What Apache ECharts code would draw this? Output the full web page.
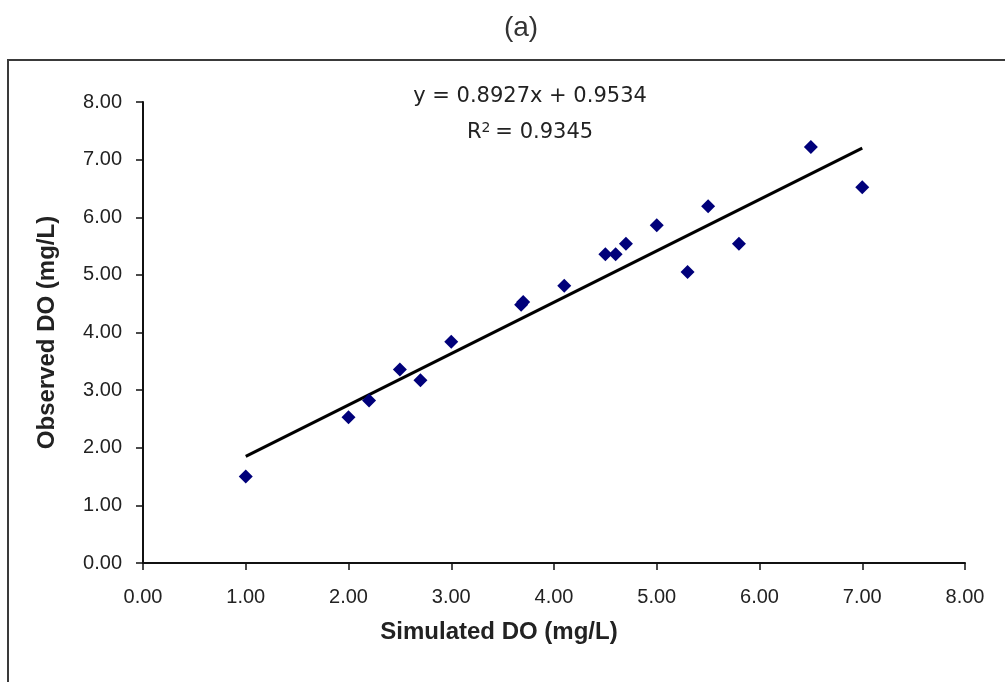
<!DOCTYPE html>
<html>
<head>
<meta charset="utf-8">
<script src="https://cdn.jsdelivr.net/npm/echarts@6/dist/echarts.min.js"></script>
<style>
html,body{margin:0;padding:0;background:#fff;}
#chart{width:1005px;height:682px;}
</style>
</head>
<body>
<div id="chart"></div>
<script>
// Data
var simulatedDO = [1.00, 2.00, 2.20, 2.50, 2.70, 3.00, 3.68, 3.70, 4.10, 4.50, 4.60, 4.70, 5.00, 5.30, 5.50, 5.80, 6.50, 7.00];
var observedDO  = [1.50, 2.53, 2.82, 3.36, 3.17, 3.84, 4.48, 4.53, 4.81, 5.36, 5.36, 5.54, 5.86, 5.05, 6.19, 5.54, 7.22, 6.52];
var trendX = [1.00, 7.00];
var trendY = [1.85, 7.20];
var axisTicks = [0, 1, 2, 3, 4, 5, 6, 7, 8];
var titleText = '(a)';
var equationText = 'y = 0.8927x + 0.9534';
var r2Text = 'R{sup|2}= 0.9345';
var xName = 'Simulated DO (mg/L)';
var yName = 'Observed DO (mg/L)';

var pts = simulatedDO.map(function (x, i) { return [x, observedDO[i]]; });
var trend = trendX.map(function (x, i) { return [x, trendY[i]]; });

var FONT = '"Liberation Sans", Arial, sans-serif';
var WIDE = '"DejaVu Sans", "Liberation Sans", sans-serif';
var chart = echarts.init(document.getElementById('chart'));
chart.setOption({
  animation: false,
  backgroundColor: '#ffffff',
  grid: { left: 143, right: 40, top: 102, bottom: 119, containLabel: false },
  graphic: [
    { type: 'rect', shape: { x: 8, y: 60, width: 1020, height: 700 },
      style: { fill: 'none', stroke: '#3a3a3a', lineWidth: 2 }, silent: true, z: -1 },
    { type: 'text', x: 521, y: 28, style: { text: titleText, font: '28px ' + FONT, fill: '#333', textAlign: 'center', textVerticalAlign: 'middle' } },
    { type: 'text', x: 530, y: 97, style: { text: equationText, font: '21px ' + WIDE, fill: '#222', textAlign: 'center', textVerticalAlign: 'middle' } },
    { type: 'text', x: 530, y: 133, style: { text: r2Text, font: '21px ' + WIDE, fill: '#222', textAlign: 'center', textVerticalAlign: 'middle',
      rich: { sup: { fontSize: 14, fontFamily: WIDE, verticalAlign: 'top', padding: [0, 5, 10, 0], fill: '#222' } } } }
  ],
  xAxis: {
    type: 'value', min: 0, max: 8, interval: 1,
    name: xName, nameLocation: 'middle', nameGap: 57,
    nameTextStyle: { fontFamily: FONT, fontSize: 24, fontWeight: 'bold', color: '#222', padding: [0, 110, 0, 0] },
    axisLine: { show: true, onZero: false, lineStyle: { color: '#111', width: 2 } },
    axisTick: { show: true, inside: false, length: 7, lineStyle: { color: '#111', width: 1.5 } },
    axisLabel: { fontFamily: FONT, fontSize: 20, color: '#222', margin: 24,
      formatter: function (v) { return v.toFixed(2); } },
    splitLine: { show: false }
  },
  yAxis: {
    type: 'value', min: 0, max: 8, interval: 1,
    name: yName, nameLocation: 'middle', nameGap: 84, nameRotate: 90,
    nameTextStyle: { fontFamily: FONT, fontSize: 24, fontWeight: 'bold', color: '#222' },
    axisLine: { show: true, onZero: false, lineStyle: { color: '#111', width: 2 } },
    axisTick: { show: true, inside: false, length: 7, lineStyle: { color: '#111', width: 1.5 } },
    axisLabel: { fontFamily: FONT, fontSize: 20, color: '#222', margin: 21,
      formatter: function (v) { return v.toFixed(2); } },
    splitLine: { show: false }
  },
  series: [
    { type: 'scatter', data: pts, symbol: 'diamond', symbolSize: 14,
      itemStyle: { color: '#00007a', opacity: 1 }, z: 3 },
    { type: 'line', data: trend, symbol: 'none', lineStyle: { color: '#000', width: 3 }, z: 2 }
  ]
});
</script>
</body>
</html>
